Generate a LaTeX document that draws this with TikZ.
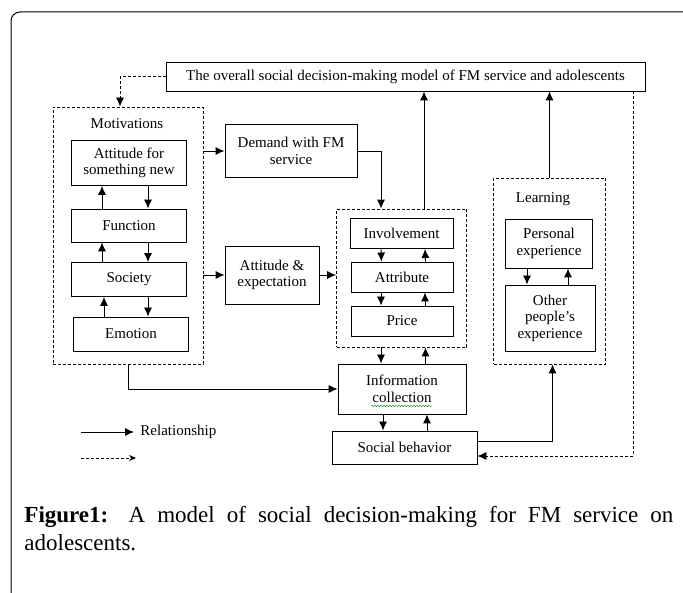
\documentclass[tikz,border=0pt]{standalone}
\usepackage{fontspec}
\setmainfont{Liberation Serif}
\usetikzlibrary{arrows.meta,positioning,decorations.pathmorphing}

\begin{document}
\begin{tikzpicture}[x=1pt,y=-1pt,line width=0.9pt,
  >={Latex[length=9pt,width=8pt]},
  box/.style={draw,align=center,inner sep=1pt,font=\fontsize{15}{16.5}\selectfont},
  group/.style={draw,dash pattern=on 3pt off 2pt,line width=0.8pt},
  dashline/.style={dash pattern=on 3pt off 2pt,line width=0.8pt},
  label/.style={font=\fontsize{15}{16.5}\selectfont,inner sep=1pt}]
  \useasboundingbox (0,0) rectangle (683,593);
  \begin{scope}
    \clip (0,0) rectangle (683,593);
    \draw[line width=1pt,rounded corners=9pt] (11,12) rectangle (720,640);
  \end{scope}

  \node[box,minimum width=479pt,minimum height=29pt] (model) at (405.5,76.5) {The overall social decision-making model of FM service and adolescents};

  \node[group,minimum width=150pt,minimum height=257pt] (motiv) at (128,235.5) {};
  \node[label] (motivlabel) at (127,124) {Motivations};
  \node[box,minimum width=115pt,minimum height=45pt] (attnew) at (129,163) {Attitude for\\something new};
  \node[box,minimum width=115pt,minimum height=33pt] (func) at (129,225.5) {Function};
  \node[box,minimum width=115pt,minimum height=34pt] (soc) at (129,279.5) {Society};
  \node[box,minimum width=115pt,minimum height=34pt] (emo) at (131,334) {Emotion};

  \node[box,minimum width=132pt,minimum height=53pt] (demand) at (291,151) {Demand with FM\\service};
  \node[box,minimum width=94pt,minimum height=58pt] (attexp) at (272,275) {Attitude \&\\expectation};

  \node[group,minimum width=130pt,minimum height=138pt] (prod) at (401.5,278) {};
  \node[box,minimum width=103pt,minimum height=30pt] (inv) at (401.5,233.5) {Involvement};
  \node[box,minimum width=102pt,minimum height=30pt] (attr) at (402,277) {Attribute};
  \node[box,minimum width=102pt,minimum height=30pt] (price) at (402,321) {Price};

  \node[box,minimum width=128pt,minimum height=50pt] (info) at (402,389) {Information\\collection};
  \node[box,minimum width=145pt,minimum height=33pt] (social) at (404.5,447.5) {Social behavior};

  \node[group,minimum width=112pt,minimum height=186pt] (learn) at (549.5,271) {};
  \node[label] (learnlabel) at (543,199) {Learning};
  \node[box,minimum width=87pt,minimum height=49pt] (pers) at (549,243.5) {Personal\\experience};
  \node[box,minimum width=90pt,minimum height=66pt] (other) at (550,318) {Other\\people’s\\experience};

  \draw[green!55!black,line width=0.4pt,decorate,decoration={snake,amplitude=0.7pt,segment length=3pt}] (371,406) -- (432,406);

  \draw[->,dashline] (model.west) -| ([xshift=-8pt]motiv.north);
  \draw[->] (motiv.east |- demand.west) -- (demand.west);
  \draw[->] (motiv.east |- attexp.west) -- (attexp.west);
  \draw[->] (attexp.east) -- (prod.west |- attexp.east);
  \draw[->] (demand.east) -| ([xshift=-20.5pt]prod.north);
  \draw[->] ([xshift=22.5pt]prod.north) -- ([xshift=22.5pt]prod.north |- model.south);
  \draw[->] (learn.north) -- (learn.north |- model.south);

  \path[->]
    ([xshift=-27pt]func.north) edge ([xshift=-27pt]attnew.south)
    ([xshift=19pt]attnew.south) edge ([xshift=19pt]func.north)
    ([xshift=-27pt]soc.north) edge ([xshift=-27pt]func.south)
    ([xshift=19pt]func.south) edge ([xshift=19pt]soc.north)
    ([xshift=-25pt]soc.south |- emo.north) edge ([xshift=-25pt]soc.south)
    ([xshift=19pt]soc.south) edge ([xshift=19pt]soc.south |- emo.north)
    ([xshift=-20.5pt]inv.south) edge ([xshift=-20.5pt]attr.north)
    ([xshift=23.5pt]attr.north) edge ([xshift=23.5pt]inv.south)
    ([xshift=-21pt]attr.south) edge ([xshift=-21pt]price.north)
    ([xshift=23pt]price.north) edge ([xshift=23pt]attr.south)
    ([xshift=-22pt]pers.south) edge ([xshift=-22pt]pers.south |- other.north)
    ([xshift=19pt]pers.south |- other.north) edge ([xshift=19pt]pers.south)
    ([xshift=-20.5pt]prod.south) edge ([xshift=-20.5pt]prod.south |- info.north)
    ([xshift=23.5pt]info.north) edge ([xshift=23.5pt]info.north |- prod.south)
    ([xshift=-19pt]info.south) edge ([xshift=-19pt]info.south |- social.north)
    ([xshift=25pt]info.south |- social.north) edge ([xshift=25pt]info.south)
    ;

  \draw[->] (motiv.south) |- (info.west);
  \draw[->] ([yshift=6pt]social.east) -| ([xshift=3pt]learn.south);
  \draw[->,dashline] ([xshift=-12pt]model.south east) |- ([yshift=-8.5pt]social.east);

  \coordinate (solidA) at (81,432);
  \coordinate (solidB) at (134,432);
  \coordinate (dashA) at (81,458);
  \coordinate (dashB) at (136,458);
  \draw[->,line width=0.8pt] (solidA) -- (solidB);
  \node[label,anchor=west] (rel) at ([xshift=5pt]solidB) {Relationship};
  \draw[-{Stealth[length=7pt,width=6pt]},dashline] (dashA) -- (dashB);

  \node[anchor=north west,text width=649pt,align=justify,inner sep=0pt,
    font=\fontsize{23}{28}\selectfont] (caption) at (24,506)
    {\textbf{Figure1:} A model of social decision-making for FM service on \mbox{adolescents.}};
\end{tikzpicture}
\end{document}
